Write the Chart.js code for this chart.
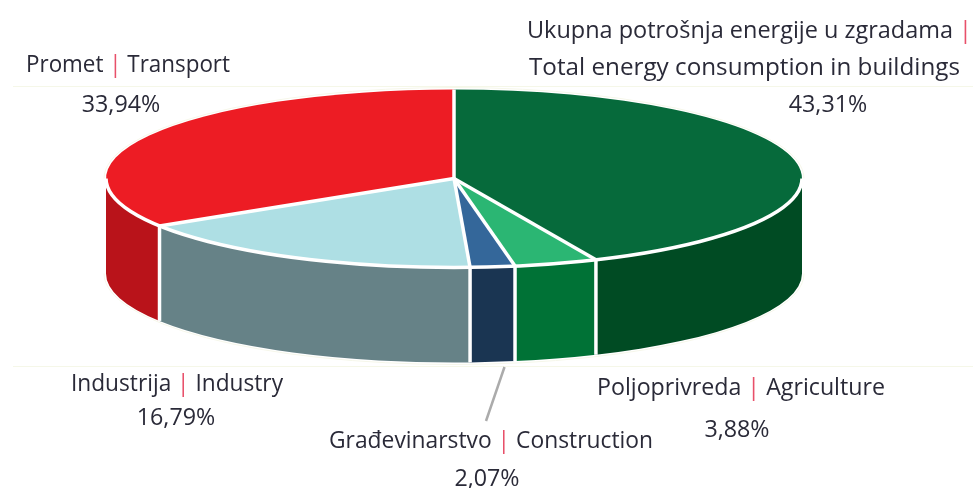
<!DOCTYPE html>
<html>
<head>
<meta charset="utf-8">
<style>html,body{margin:0;padding:0;background:#fff}canvas{display:block}</style>
<script src="https://cdn.jsdelivr.net/npm/chart.js@4"></script>
</head>
<body>
<canvas id="c" width="973" height="488"></canvas>
<script>
const namesHr = ['Ukupna potrošnja energije u zgradama','Poljoprivreda','Građevinarstvo','Industrija','Promet'];
const namesEn = ['Total energy consumption in buildings','Agriculture','Construction','Industry','Transport'];
const shares = [43.31,3.88,2.07,16.79,33.94];
const topColors = ['#066a3b','#2bb673','#34679a','#aedfe4','#ed1c24'];
const sideColors = ['#004b23','#007236','#1a3552','#668287','#b9131a'];

const FONT = '"Open Sans"';
const TEXT = '#2a2a38';
const PIPE = '#e8506a';
// Label layout per slice: [left, right, baseline] for name lines; [centre, baseline] for the percentage
const nameLayout = [
  {lines:[[527,972,38,true],[529,960,75,false]], pct:[828,112]},
  {lines:[[597,885,395,true]], pct:[737,437]},
  {lines:[[329,653,448,true]], pct:[487,486]},
  {lines:[[71,283,391,true]], pct:[176,425]},
  {lines:[[26,230,72,true]], pct:[121,112]}
];
const CX=454, CY=178.5, RX=348, RY=89, DEPTH=95;

function fitted(ctx, parts, left, right, base){
  // parts: [{t,c}] drawn left to right, horizontally fitted between left and right
  const total = parts.reduce((s,p)=>s+ctx.measureText(p.t).width,0);
  const k = (right-left)/total;
  ctx.save();
  ctx.translate(left,base); ctx.scale(k,1);
  let x=0;
  parts.forEach(p=>{ctx.fillStyle=p.c;ctx.fillText(p.t,x,0);x+=ctx.measureText(p.t).width;});
  ctx.restore();
}

const pie3d = {
  id:'pie3d',
  beforeDatasetsDraw(chart){
    const ctx=chart.ctx, arcs=chart.getDatasetMeta(0).data;
    // faint rule lines behind the pie
    ctx.save();
    ctx.strokeStyle='#f5f7e8'; ctx.lineWidth=1;
    [[13,973,86.5],[13,973,366.5]].forEach(([a,b,y])=>{ctx.beginPath();ctx.moveTo(a,y);ctx.lineTo(b,y);ctx.stroke();});
    // side walls of the slices facing the viewer
    arcs.forEach((arc,i)=>{
      const a=Math.max(arc.startAngle,0), b=Math.min(arc.endAngle,Math.PI);
      if(b<=a) return;
      ctx.beginPath();
      ctx.ellipse(CX,CY,RX,RY,0,a,b);
      ctx.ellipse(CX,CY+DEPTH,RX,RY,0,b,a,true);
      ctx.closePath();
      ctx.fillStyle=sideColors[i]; ctx.fill();
    });
    ctx.restore();
    // squash the library's pie into the top face
    const c=arcs[0];
    ctx.save();
    ctx.translate(CX,CY); ctx.scale(1,RY/RX); ctx.translate(-c.x,-c.y);
  },
  afterDatasetsDraw(chart){
    const ctx=chart.ctx, arcs=chart.getDatasetMeta(0).data;
    ctx.restore();
    ctx.save();
    ctx.strokeStyle='#fff'; ctx.lineWidth=3.5; ctx.lineCap='butt';
    // front rim
    ctx.beginPath(); ctx.ellipse(CX,CY,RX,RY,0,0,Math.PI); ctx.stroke();
    arcs.forEach(arc=>{
      const a=arc.startAngle, px=CX+RX*Math.cos(a), py=CY+RY*Math.sin(a);
      ctx.beginPath(); ctx.moveTo(CX,CY); ctx.lineTo(px,py); ctx.stroke();
      if(Math.sin(a)>0){
        ctx.beginPath(); ctx.moveTo(px,py); ctx.lineTo(px,py+DEPTH); ctx.stroke();
      }
    });
    // pale outline around the solid
    ctx.strokeStyle='#f6f7ea'; ctx.lineWidth=1;
    ctx.beginPath(); ctx.ellipse(CX,CY,RX+2,RY+2,0,Math.PI,2*Math.PI); ctx.stroke();
    ctx.beginPath(); ctx.ellipse(CX,CY+DEPTH,RX+2,RY+2,0,0,Math.PI); ctx.stroke();
    // leader line for the construction slice
    ctx.strokeStyle='#ababab'; ctx.lineWidth=2.5;
    ctx.beginPath(); ctx.moveTo(504.5,367); ctx.lineTo(486,421); ctx.stroke();
    // labels
    ctx.font='24px '+FONT; ctx.textBaseline='alphabetic'; ctx.textAlign='left';
    shares.forEach((v,i)=>{
      const L=nameLayout[i];
      if(i===0){
        fitted(ctx,[{t:namesHr[0]+' ',c:TEXT},{t:'|',c:PIPE}],L.lines[0][0],L.lines[0][1],L.lines[0][2]);
        fitted(ctx,[{t:namesEn[0],c:TEXT}],L.lines[1][0],L.lines[1][1],L.lines[1][2]);
      } else {
        const l=L.lines[0];
        fitted(ctx,[{t:namesHr[i]+' ',c:TEXT},{t:'|',c:PIPE},{t:' '+namesEn[i],c:TEXT}],l[0],l[1],l[2]);
      }
      const pct=v.toFixed(2).replace('.',',')+'%';
      const half=ctx.measureText(pct).width*0.97/2;
      fitted(ctx,[{t:pct,c:TEXT}],L.pct[0]-half,L.pct[0]+half,L.pct[1]);
    });
    ctx.restore();
  }
};

new Chart(document.getElementById('c'),{
  type:'pie',
  data:{labels:namesHr,datasets:[{data:shares,backgroundColor:topColors,borderWidth:0,clip:false}]},
  options:{
    responsive:false,animation:false,radius:RX,
    plugins:{legend:{display:false},tooltip:{enabled:false}}
  },
  plugins:[pie3d]
});
</script>
</body>
</html>
